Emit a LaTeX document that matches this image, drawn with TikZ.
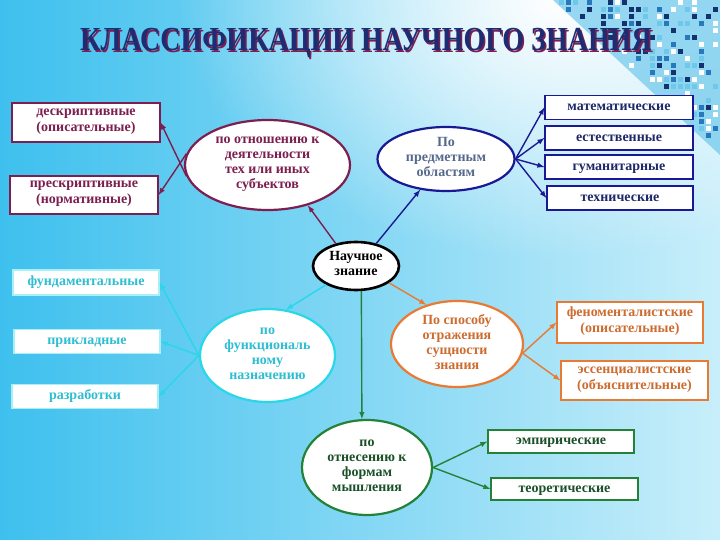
\documentclass[tikz,border=0pt]{standalone}
\usepackage{fontspec}
\setmainfont{Liberation Serif}
\usetikzlibrary{shapes,fadings}

\definecolor{bgleft}{RGB}{62,192,238}
\definecolor{bgright}{RGB}{200,238,250}
\definecolor{titlenavy}{RGB}{30,45,115}
\definecolor{maroon}{RGB}{125,30,80}
\definecolor{navy}{RGB}{25,25,150}
\definecolor{navytext}{RGB}{30,40,105}
\definecolor{greyblue}{RGB}{85,105,140}
\definecolor{cyanline}{RGB}{40,215,232}
\definecolor{cyantext}{RGB}{45,190,210}
\definecolor{orangeline}{RGB}{232,122,52}
\definecolor{orangetext}{RGB}{205,108,48}
\definecolor{greenline}{RGB}{35,130,55}
\definecolor{greentext}{RGB}{25,80,40}
\definecolor{pxa}{RGB}{20,50,110}
\definecolor{pxb}{RGB}{40,120,190}
\definecolor{pxc}{RGB}{110,200,235}
\definecolor{pxbg}{RGB}{110,200,236}

\tikzfading[name=glow, inner color=transparent!0, outer color=transparent!100]

\begin{document}
\begin{tikzpicture}[x=1pt,y=-1pt]
    \tikzstyle{kbox}=[draw, fill=white, line width=1.2pt, inner sep=0pt, align=center,
                      execute at begin node=\strut, execute at end node=\strut,
                      font=\bfseries\fontsize{14}{16}\selectfont]
    \tikzstyle{kone}=[draw, fill=white, line width=1.2pt, inner sep=0pt,
                      execute at begin node=\strut,
                      font=\bfseries\fontsize{14}{16}\selectfont]
    \tikzstyle{kell}=[ellipse, draw, fill=white, line width=2.2pt, inner sep=0pt, align=center,
                      execute at begin node=\strut, execute at end node=\strut,
                      font=\bfseries\fontsize{14}{15}\selectfont]
    \tikzstyle{karrow}=[-latex, line width=1.4pt]

    % Background
    \useasboundingbox (0,0) rectangle (720,540);
    \shade[left color=bgleft, right color=bgright] (0,0) rectangle (720,540);
    \fill[white, path fading=glow] (560,0) ellipse (380 and 260);

    % Pixel band in the top right corner
    \fill[pxbg, opacity=0.7] (553,0) -- (720,0) -- (720,155) -- cycle;
    \pgfmathsetseed{7}
    \foreach \gx in {0,...,25}{
      \foreach \gy in {0,...,22}{
        \pgfmathsetmacro{\px}{545+7*\gx}
        \pgfmathsetmacro{\py}{7*\gy}
        \pgfmathsetmacro{\rr}{rnd}
        \pgfmathtruncatemacro{\ok}{(((\px-553)*0.668-\py*0.744)>0)*(\rr<0.5)}
        \pgfmathtruncatemacro{\cc}{int(4*rnd)}
        \ifnum\ok=1
          \ifcase\cc \def\sqc{pxa}\or \def\sqc{pxb}\or \def\sqc{pxc}\else \def\sqc{white}\fi
          \fill[\sqc] (\px,\py) rectangle ++(5,5);
        \fi
      }
    }

    % Title
    \node[maroon, font=\bfseries\fontsize{28}{30}\selectfont] (titleshadow) at (367.5,44.5)
        {\scalebox{1}[1.2]{КЛАССИФИКАЦИИ НАУЧНОГО ЗНАНИЯ}};
    \node[titlenavy, font=\bfseries\fontsize{28}{30}\selectfont] (title) at (366,43)
        {\scalebox{1}[1.2]{КЛАССИФИКАЦИИ НАУЧНОГО ЗНАНИЯ}};

    % Centre
    \node[kell, line width=2.6pt, minimum width=86pt, minimum height=48pt] (nz) at (356,266)
        {Научное\\знание};

    % Relation to activity
    \node[kell, draw=maroon, text=maroon, minimum width=165pt, minimum height=90pt] (ot) at (267.5,165)
        {по отношению к\\деятельности\\тех или иных\\субъектов};
    \node[kbox, draw=maroon, text=maroon, minimum width=148pt, minimum height=39pt] (de) at (86,122.5)
        {дескриптивные\\(описательные)};
    \node[kbox, draw=maroon, text=maroon, minimum width=148pt, minimum height=38pt] (pre) at (84,195)
        {прескриптивные\\(нормативные)};

    % Subject areas
    \node[kell, draw=navy, text=greyblue, minimum width=137pt, minimum height=64pt] (pr) at (446,159)
        {По\\предметным\\областям};
    \node[kone, draw=navy, text=navytext, minimum width=148pt, minimum height=24pt] (mat) at (619,107.5) {математические};
    \node[kone, draw=navy, text=navytext, minimum width=148pt, minimum height=24pt] (est) at (619,138) {естественные};
    \node[kone, draw=navy, text=navytext, minimum width=148pt, minimum height=24pt] (gum) at (619,167) {гуманитарные};
    \node[kone, draw=navy, text=navytext, minimum width=146pt, minimum height=24pt] (teh) at (620,198) {технические};

    % Function
    \node[kell, draw=cyanline, text=cyantext, minimum width=135pt, minimum height=93pt] (fn) at (267.5,355.5)
        {по\\функциональ\\ному\\назначению};
    \node[kone, draw=cyanline!40, text=cyantext, minimum width=146pt, minimum height=25pt] (fund) at (86,282.5) {фундаментальные};
    \node[kone, draw=cyanline!40, text=cyantext, minimum width=146pt, minimum height=24pt] (prik) at (87,341.5) {прикладные};
    \node[kone, draw=cyanline!40, text=cyantext, minimum width=146pt, minimum height=24pt] (razr) at (85,396.5) {разработки};

    % Reflection of essence
    \node[kell, draw=orangeline, text=orangetext, minimum width=132pt, minimum height=86pt] (sp) at (457,344)
        {По способу\\отражения\\сущности\\знания};
    \node[kbox, draw=orangeline, text=orangetext, minimum width=146pt, minimum height=41pt] (feno) at (630,322.5)
        {феноменталистские\\(описательные)};
    \node[kbox, draw=orangeline, text=orangetext, minimum width=147pt, minimum height=39pt] (esse) at (634.5,380.5)
        {эссенциалистские\\(объяснительные)};

    % Forms of thinking
    \node[kell, draw=greenline, text=greentext, minimum width=130pt, minimum height=95pt] (fm) at (367,467.5)
        {по\\отнесению к\\формам\\мышления};
    \node[kone, draw=greenline, text=greentext, minimum width=146pt, minimum height=23pt] (emp) at (561,441.5) {эмпирические};
    \node[kone, draw=greenline, text=greentext, minimum width=147pt, minimum height=22pt] (teor) at (564.5,489) {теоретические};

    % Connectors from the centre
    \draw[karrow, maroon] (nz.132) -- (ot.-45);
    \draw[karrow, navy] (nz.48) -- (pr.-130);
    \draw[karrow, cyanline] (nz.-148) -- (fn.68);
    \draw[karrow, orangeline] (nz.-27) -- (sp.128);
    \draw[karrow, greenline] (nz.-78) -- (fm.96);

    % Connectors to the boxes
    \draw[karrow, maroon] (ot.188) -- (de.east);
    \draw[karrow, maroon] (ot.172) -- (pre.east);
    \foreach \b in {mat,est,gum,teh}
        \draw[karrow, navy] (pr.east) -- (\b.west);
    \foreach \b in {fund,prik,razr}
        \draw[karrow, cyanline] (fn.west) -- (\b.east);
    \foreach \b in {feno,esse}
        \draw[karrow, orangeline] (sp.-8) -- (\b.west);
    \foreach \b in {emp,teor}
        \draw[karrow, greenline] (fm.east) -- (\b.west);
\end{tikzpicture}
\end{document}
